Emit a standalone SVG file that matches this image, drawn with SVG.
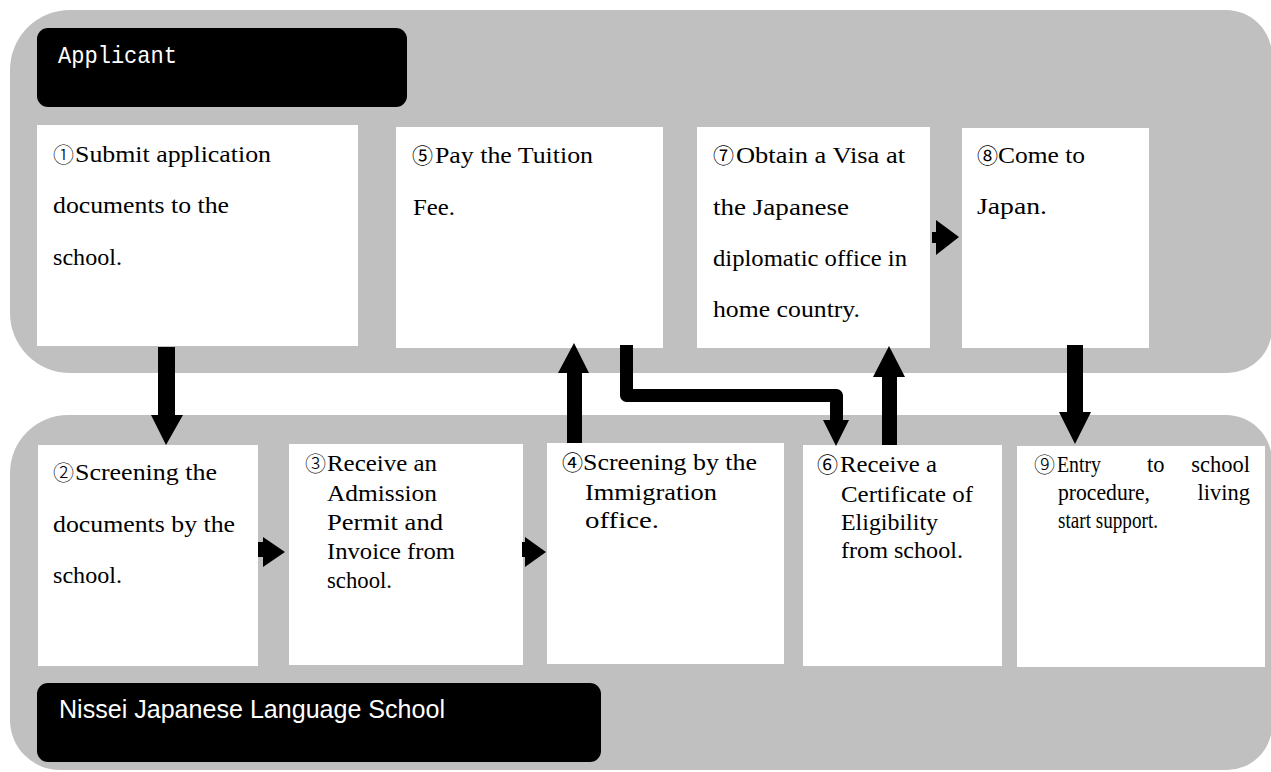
<svg xmlns="http://www.w3.org/2000/svg" width="1271" height="772" viewBox="0 0 1271 772">
<style>
.panel{fill:#c0c0c0}
.box{fill:#ffffff}
.lbl{fill:#000000}
.t{font-family:"Liberation Serif","Times New Roman",serif;font-size:23px;fill:#000}
.s{font-family:"Liberation Serif","Times New Roman",serif;font-size:22.5px;fill:#000}
.n{font-family:"Noto Sans CJK JP","DejaVu Sans",sans-serif;font-size:21px;fill:#000}
.nt{font-family:"Noto Sans CJK JP","DejaVu Serif",serif;font-size:21px;font-weight:300;fill:#000}
.arr{fill:#000}
</style>
<rect width="1271" height="772" fill="#ffffff"/>
<path class="panel" d="M70,10 H1226 A46,46 0 0 1 1272,56 V328 A45,45 0 0 1 1227,373 H70 A60,60 0 0 1 10,313 V70 A60,60 0 0 1 70,10 Z"/>
<path class="panel" d="M68,415 H1226 A46,46 0 0 1 1272,461 V725 A45,45 0 0 1 1227,770 H60 A50,50 0 0 1 10,720 V473 A58,58 0 0 1 68,415 Z"/>

<g id="applicant">
<rect class="lbl" x="37" y="28" width="370" height="79" rx="11"/>
<text x="58" y="63" font-family="Liberation Mono, DejaVu Sans Mono, monospace" font-size="24" fill="#fff" textLength="119" lengthAdjust="spacingAndGlyphs">Applicant</text>
</g>
<g id="school">
<rect class="lbl" x="37" y="683" width="564" height="79" rx="11"/>
<text x="59" y="718" font-family="Liberation Sans, Arial, sans-serif" font-size="25" fill="#fff" textLength="386" lengthAdjust="spacingAndGlyphs">Nissei Japanese Language School</text>
</g>

<g id="step1">
<rect class="box" x="37" y="125" width="321" height="221"/>
<text class="nt" x="53" y="162">①</text>
<text class="t" x="75" y="162" textLength="196" lengthAdjust="spacingAndGlyphs">Submit application</text>
<text class="t" x="53" y="213" textLength="176" lengthAdjust="spacingAndGlyphs">documents to the</text>
<text class="t" x="53" y="265" textLength="69" lengthAdjust="spacingAndGlyphs">school.</text>
</g>
<g id="step5">
<rect class="box" x="396" y="127" width="267" height="221"/>
<text class="n" x="412" y="163">⑤</text>
<text class="t" x="435" y="163" textLength="158" lengthAdjust="spacingAndGlyphs">Pay the Tuition</text>
<text class="t" x="413" y="215" textLength="42" lengthAdjust="spacingAndGlyphs">Fee.</text>
</g>
<g id="step7">
<rect class="box" x="697" y="127" width="233" height="221"/>
<text class="n" x="713" y="163">⑦</text>
<text class="t" x="736" y="163" textLength="169" lengthAdjust="spacingAndGlyphs">Obtain a Visa at</text>
<text class="t" x="713" y="215" textLength="136" lengthAdjust="spacingAndGlyphs">the Japanese</text>
<text class="t" x="713" y="266" textLength="194" lengthAdjust="spacingAndGlyphs">diplomatic office in</text>
<text class="t" x="713" y="317" textLength="147" lengthAdjust="spacingAndGlyphs">home country.</text>
</g>
<g id="step8">
<rect class="box" x="962" y="128" width="187" height="220"/>
<text class="n" x="977" y="163">⑧</text>
<text class="t" x="998" y="163" textLength="87" lengthAdjust="spacingAndGlyphs">Come to</text>
<text class="t" x="977" y="214" textLength="70" lengthAdjust="spacingAndGlyphs">Japan.</text>
</g>

<g id="step2">
<rect class="box" x="38" y="445" width="220" height="221"/>
<text class="nt" x="53" y="480">②</text>
<text class="t" x="75" y="480" textLength="142" lengthAdjust="spacingAndGlyphs">Screening the</text>
<text class="t" x="53" y="532" textLength="182" lengthAdjust="spacingAndGlyphs">documents by the</text>
<text class="t" x="53" y="583" textLength="69" lengthAdjust="spacingAndGlyphs">school.</text>
</g>
<g id="step3">
<rect class="box" x="289" y="444" width="234" height="221"/>
<text class="nt" x="305" y="471">③</text>
<text class="t" x="327" y="471" textLength="110" lengthAdjust="spacingAndGlyphs">Receive an</text>
<text class="t" x="327" y="501" textLength="110" lengthAdjust="spacingAndGlyphs">Admission</text>
<text class="t" x="327" y="530" textLength="116" lengthAdjust="spacingAndGlyphs">Permit and</text>
<text class="t" x="327" y="559" textLength="128" lengthAdjust="spacingAndGlyphs">Invoice from</text>
<text class="t" x="327" y="588" textLength="65" lengthAdjust="spacingAndGlyphs">school.</text>
</g>
<g id="step4">
<rect class="box" x="547" y="443" width="237" height="221"/>
<text class="n" x="562" y="470">④</text>
<text class="t" x="583" y="470" textLength="174" lengthAdjust="spacingAndGlyphs">Screening by the</text>
<text class="t" x="585" y="500" textLength="132" lengthAdjust="spacingAndGlyphs">Immigration</text>
<text class="t" x="585" y="528" textLength="74" lengthAdjust="spacingAndGlyphs">office.</text>
</g>
<g id="step6">
<rect class="box" x="803" y="445" width="199" height="221"/>
<text class="n" x="817" y="472">⑥</text>
<text class="t" x="840" y="472" textLength="97" lengthAdjust="spacingAndGlyphs">Receive a</text>
<text class="t" x="841" y="502" textLength="132" lengthAdjust="spacingAndGlyphs">Certificate of</text>
<text class="t" x="841" y="530" textLength="97" lengthAdjust="spacingAndGlyphs">Eligibility</text>
<text class="t" x="841" y="558" textLength="122" lengthAdjust="spacingAndGlyphs">from school.</text>
</g>
<g id="step9">
<rect class="box" x="1017" y="446" width="248" height="221"/>
<text class="nt" x="1034" y="472">⑨</text>
<text class="s" x="1057" y="472" textLength="44" lengthAdjust="spacingAndGlyphs">Entry</text>
<text class="s" x="1147" y="472">to</text>
<text class="s" x="1250" y="472" text-anchor="end">school</text>
<text class="s" x="1058" y="500" textLength="92" lengthAdjust="spacingAndGlyphs">procedure,</text>
<text class="s" x="1250" y="500" text-anchor="end">living</text>
<text class="s" x="1058" y="528" textLength="100" lengthAdjust="spacingAndGlyphs">start support.</text>
</g>

<g id="connectors">
<polygon class="arr" points="158,347 175,347 175,415 183,415 166,445 151,415 158,415"/>
<polygon class="arr" points="258,542 263,542 263,537 285,552 263,567 263,557 258,557"/>
<polygon class="arr" points="522,542 525,542 525,537 546,552 525,567 525,557 522,557"/>
<polygon class="arr" points="567,443 567,373 558,373 574,343 589,373 582,373 582,443"/>
<polygon class="arr" points="882,445 882,377 873,377 889,346 905,377 897,377 897,445"/>
<polygon class="arr" points="932,232 936,232 936,220 959,237 936,255 936,243 932,243"/>
<polygon class="arr" points="1067,345 1083,345 1083,412 1091,412 1075,444 1059,412 1067,412"/>
<path d="M626.5,345 V395.5 H836.5 V421" fill="none" stroke="#000" stroke-width="13" stroke-linejoin="round"/>
<polygon class="arr" points="823,420 849,420 836,446"/>
</g>
</svg>
